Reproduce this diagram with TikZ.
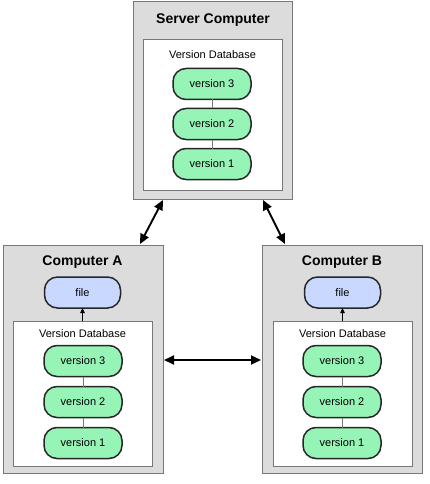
\documentclass[tikz,border=0pt]{standalone}
\usepackage{fontspec}
\setmainfont{Liberation Sans}
\usetikzlibrary{arrows.meta,calc}
\definecolor{vgreen}{RGB}{150,244,182}
\definecolor{fblue}{RGB}{200,216,255}
\definecolor{boxgray}{RGB}{220,220,220}
\definecolor{edgegray}{RGB}{120,120,120}
\tikzset{
  outerbox/.style={draw=edgegray, fill=boxgray, line width=1pt, anchor=north west, inner sep=0pt, outer sep=0pt},
  innerbox/.style={draw=edgegray, fill=white, line width=0.9pt, anchor=north west, inner sep=0pt, outer sep=0pt},
  pill/.style={draw=black!85, line width=1.5pt, fill=vgreen, rounded corners=13pt,
    minimum width=78pt, minimum height=31pt, inner sep=0pt, outer sep=0pt,
    font=\fontsize{11}{13}\selectfont},
  filepill/.style={pill, fill=fblue, minimum width=76pt},
  titletext/.style={font=\fontsize{14}{16}\selectfont\bfseries, inner sep=0pt},
  dbtext/.style={font=\fontsize{11}{13}\selectfont, inner sep=0pt},
  vlink/.style={draw=edgegray, line width=0.8pt},
  bigarrow/.style={line width=1.9pt, {Triangle[length=10pt,width=9pt]}-{Triangle[length=10pt,width=9pt]}},
  smallarrow/.style={line width=0.8pt, -{Triangle[length=5pt,width=4.5pt]}}
}
\begin{document}
\begin{tikzpicture}[x=1pt,y=-1pt]
\useasboundingbox (0,0) rectangle (429,484);
% Server
\node[outerbox, minimum width=159pt, minimum height=197pt] (srv) at (133,2) {};
\node[innerbox, minimum width=139pt, minimum height=151pt] (sdb) at (143,39) {};
\node[titletext] (stitle) at (213,20) {Server Computer};
\node[dbtext] (sdbt) at (212.5,55) {Version Database};
\node[pill] (s3) at (212,84) {version 3};
\node[pill] (s2) at (212,124) {version 2};
\node[pill] (s1) at (212,164) {version 1};
\draw[vlink] (s3.south) -- (s2.north);
\draw[vlink] (s2.south) -- (s1.north);
% Computer A
\node[outerbox, minimum width=160pt, minimum height=228pt] (ca) at (3,245) {};
\node[innerbox, minimum width=139pt, minimum height=145pt] (adb) at (13,321) {};
\node[titletext] (atitle) at (82.5,262) {Computer A};
\node[filepill] (af) at (82.5,292.5) {file};
\node[dbtext] (adbt) at (82.5,334) {Version Database};
\node[pill] (a3) at (83,361) {version 3};
\node[pill] (a2) at (83,402) {version 2};
\node[pill] (a1) at (83,443) {version 1};
\draw[vlink] (a3.south) -- (a2.north);
\draw[vlink] (a2.south) -- (a1.north);
\draw[smallarrow] (adb.north -| af.south) -- (af.south);
% Computer B
\node[outerbox, minimum width=160pt, minimum height=228pt] (cb) at (262,245) {};
\node[innerbox, minimum width=139pt, minimum height=145pt] (bdb) at (273,321) {};
\node[titletext] (btitle) at (342,262) {Computer B};
\node[filepill] (bf) at (342.5,292.5) {file};
\node[dbtext] (bdbt) at (342.5,334) {Version Database};
\node[pill] (b3) at (342,361) {version 3};
\node[pill] (b2) at (342,402) {version 2};
\node[pill] (b1) at (342,443) {version 1};
\draw[vlink] (b3.south) -- (b2.north);
\draw[vlink] (b2.south) -- (b1.north);
\draw[smallarrow] (bdb.north -| bf.south) -- (bf.south);
% Big arrows
\draw[bigarrow] ($(srv.south west)+(30,1)$) -- ($(ca.north west)+(137,-1)$);
\draw[bigarrow] ($(srv.south west)+(130,1)$) -- ($(cb.north west)+(23,-1)$);
\draw[bigarrow] ($(ca.north east)+(1,115)$) -- ($(cb.north west)+(-1,115)$);
\end{tikzpicture}
\end{document}
